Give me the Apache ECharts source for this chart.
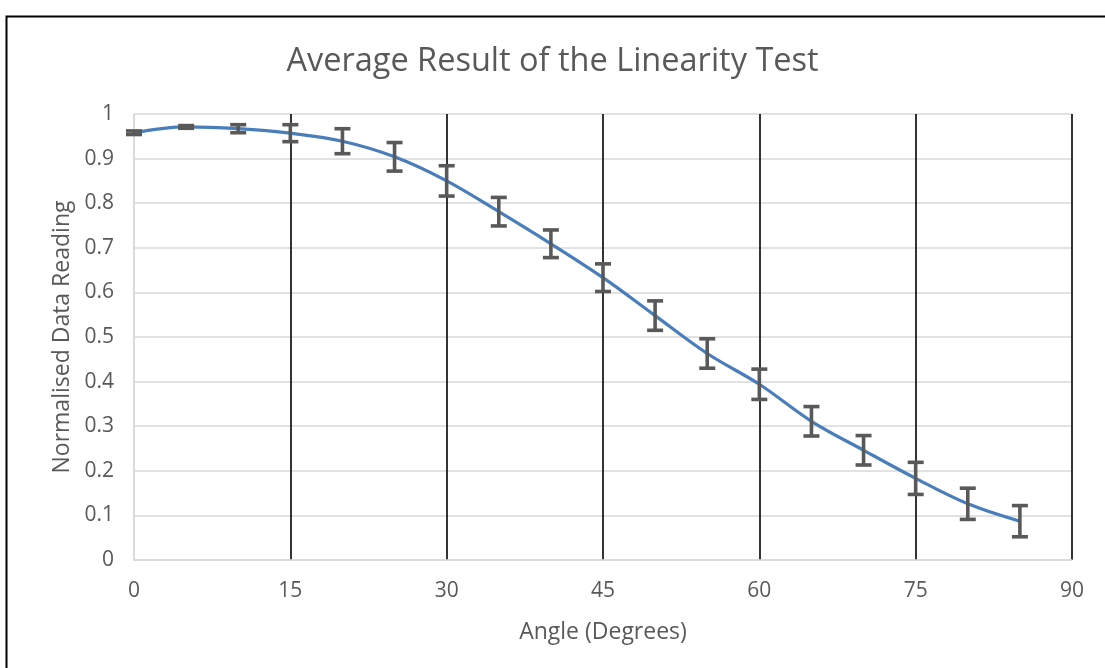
<!DOCTYPE html>
<html>
<head>
<meta charset="utf-8">
<script src="https://cdn.jsdelivr.net/npm/echarts@6/dist/echarts.min.js"></script>
<style>
html,body{margin:0;padding:0;background:#fff;}
#chart{width:1105px;height:668px;}
</style>
</head>
<body>
<div id="chart"></div>
<script>
// ---- data ----
const angles = [0, 5, 10, 15, 20, 25, 30, 35, 40, 45, 50, 55, 60, 65, 70, 75, 80, 85];
const meanReading = [0.958, 0.971, 0.967, 0.957, 0.939, 0.904, 0.850, 0.781, 0.709, 0.633, 0.548, 0.463, 0.394, 0.311, 0.246, 0.183, 0.126, 0.087];
const errorReading = [0.004, 0.003, 0.009, 0.019, 0.028, 0.032, 0.034, 0.032, 0.031, 0.031, 0.033, 0.033, 0.034, 0.033, 0.033, 0.036, 0.035, 0.035];
const xTicks = [0, 15, 30, 45, 60, 75, 90];
const yTicks = [0, 0.1, 0.2, 0.3, 0.4, 0.5, 0.6, 0.7, 0.8, 0.9, 1];

const titleText = 'Average Result of the Linearity Test';
const xTitle = 'Angle (Degrees)';
const yTitle = 'Normalised Data Reading';

const lineData = angles.map((a, i) => [a, meanReading[i]]);
const errData = angles.map((a, i) => [a, meanReading[i] - errorReading[i], meanReading[i] + errorReading[i]]);

const FONT = 'Open Sans';
const TXT = '#595959';

const chart = echarts.init(document.getElementById('chart'), null, {renderer: 'canvas'});

const vColors = xTicks.map((t, i) => i === 0 ? '#d9d9d9' : '#000000');

chart.setOption({
  animation: false,
  backgroundColor: '#ffffff',
  title: {
    text: titleText,
    left: 'center',
    top: 40,
    textStyle: {fontFamily: FONT, fontWeight: 'normal', fontSize: 32.5, color: TXT}
  },
  graphic: [{
    type: 'rect',
    left: 4, top: 14,
    shape: {width: 1120, height: 700},
    style: {fill: 'none', stroke: '#000', lineWidth: 2},
    silent: true, z: 100
  }],
  grid: {left: 134, right: 33, top: 114, bottom: 108, containLabel: false},
  xAxis: {
    type: 'value',
    min: xTicks[0], max: xTicks[xTicks.length - 1], interval: 15,
    name: xTitle,
    nameLocation: 'middle',
    nameGap: 61,
    nameTextStyle: {fontFamily: FONT, fontSize: 23, color: TXT},
    axisLine: {show: true, lineStyle: {color: '#d9d9d9', width: 1.5}},
    axisTick: {show: false},
    axisLabel: {fontFamily: FONT, fontSize: 21, color: TXT, margin: 21},
    splitLine: {show: true, lineStyle: {color: vColors, width: 1.6}}
  },
  yAxis: {
    type: 'value',
    min: yTicks[0], max: yTicks[yTicks.length - 1], interval: 0.1,
    name: yTitle,
    nameLocation: 'middle',
    nameGap: 60,
    nameTextStyle: {fontFamily: FONT, fontSize: 23, color: TXT},
    axisLine: {show: true, lineStyle: {color: '#d9d9d9', width: 1.5}},
    axisTick: {show: false},
    axisLabel: {fontFamily: FONT, fontSize: 21, color: TXT, margin: 20,
      formatter: v => String(Math.round(v * 10) / 10)},
    splitLine: {show: true, lineStyle: {color: '#d9d9d9', width: 1.5}}
  },
  series: [
    {
      type: 'line',
      data: lineData,
      smooth: 0.35,
      showSymbol: false,
      lineStyle: {color: '#4a7ebb', width: 3.2},
      z: 3
    },
    {
      type: 'custom',
      data: errData,
      z: 4,
      renderItem: function (params, api) {
        const x = api.value(0);
        const lo = api.coord([x, api.value(1)]);
        const hi = api.coord([x, api.value(2)]);
        const half = 8;
        const st = {stroke: '#595959', lineWidth: 3.6, fill: null};
        return {
          type: 'group',
          children: [
            {type: 'line', shape: {x1: lo[0], y1: lo[1], x2: hi[0], y2: hi[1]}, style: st},
            {type: 'line', shape: {x1: lo[0] - half, y1: lo[1], x2: lo[0] + half, y2: lo[1]}, style: st},
            {type: 'line', shape: {x1: hi[0] - half, y1: hi[1], x2: hi[0] + half, y2: hi[1]}, style: st}
          ]
        };
      }
    }
  ]
});
</script>
</body>
</html>
